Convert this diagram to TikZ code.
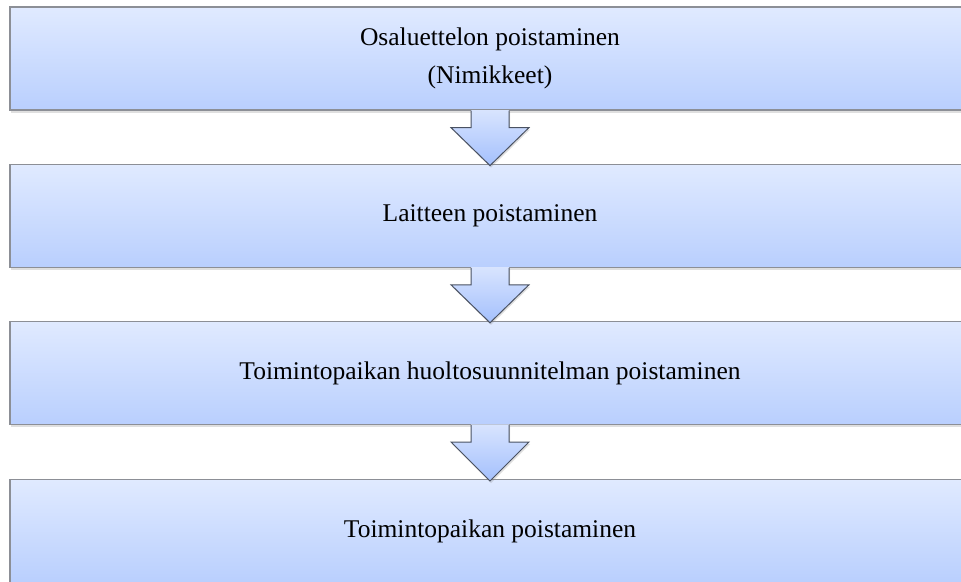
\documentclass[tikz,border=0pt]{standalone}
\usepackage{fontspec}
\setmainfont{Liberation Serif}
\usepackage{tikz}
\usetikzlibrary{positioning,calc,shadows}
\definecolor{BoxTop}{HTML}{E0EAFF}
\definecolor{BoxBottom}{HTML}{B9CFFE}
\definecolor{BoxLine}{HTML}{8C8F96}
\definecolor{ArrowLine}{HTML}{4A5262}
\definecolor{ArrowTop}{HTML}{D8E4FE}
\definecolor{ArrowBottom}{HTML}{A4C0FD}

\tikzset{
	stagebox/.style={
		draw=BoxLine,
		line width=1.2pt,
		top color=BoxTop,
		bottom color=BoxBottom,
		minimum width=960pt,
		minimum height=103pt,
		align=center,
		font=\fontsize{25.5}{38}\selectfont,
		drop shadow={shadow xshift=1pt,shadow yshift=-3pt,opacity=0.25}
	},
	downarrow/.style={
		top color=ArrowTop,
		bottom color=ArrowBottom,
		drop shadow={shadow xshift=1pt,shadow yshift=-2pt,opacity=0.25}
	}
}

\begin{document}
\begin{tikzpicture}
			\useasboundingbox (0,0) rectangle (961pt,-581pt);
			
			\node[stagebox] (osa) at (490pt,-58.5pt) {Osaluettelon poistaminen\\(Nimikkeet)};
			\node[stagebox, below=53pt of osa] (lait) {Laitteen poistaminen};
			\node[stagebox, below=53pt of lait] (huolto) {Toimintopaikan huoltosuunnitelman poistaminen};
			\node[stagebox, below=54pt of huolto] (paikka) {Toimintopaikan poistaminen};
			
			% nuolet laatikosta seuraavaan
			\foreach \ylä/\ala in {osa/lait, lait/huolto, huolto/paikka}{
				\path[downarrow]
				($(\ylä.south)+(-19pt,0.6pt)$) -- ($(\ylä.south)+(-19pt,-17pt)$)
				-- ($(\ylä.south)+(-39pt,-17pt)$) -- ($(\ala.north)+(0,-2pt)$)
				-- ($(\ylä.south)+(39pt,-17pt)$) -- ($(\ylä.south)+(19pt,-17pt)$)
				-- ($(\ylä.south)+(19pt,0.6pt)$) -- cycle;
				\draw[ArrowLine, line width=1pt, line join=miter]
				($(\ylä.south)+(-19pt,0)$) -- ($(\ylä.south)+(-19pt,-17pt)$)
				-- ($(\ylä.south)+(-39pt,-17pt)$) -- ($(\ala.north)+(0,-2pt)$)
				-- ($(\ylä.south)+(39pt,-17pt)$) -- ($(\ylä.south)+(19pt,-17pt)$)
				-- ($(\ylä.south)+(19pt,0)$);
			}
		\end{tikzpicture}
\end{document}
